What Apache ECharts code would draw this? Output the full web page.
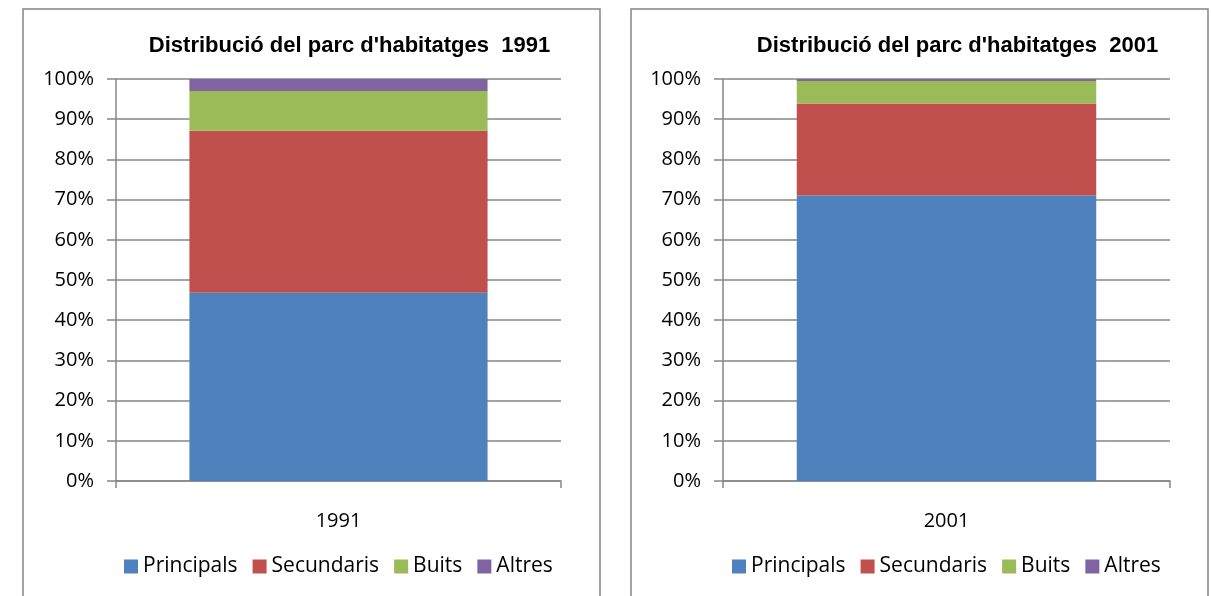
<!DOCTYPE html>
<html><head><meta charset="utf-8">
<script src="https://cdn.jsdelivr.net/npm/echarts@6/dist/echarts.min.js"></script>
<style>html,body{margin:0;padding:0;background:#fff}#c{width:1211px;height:596px}</style>
</head><body><div id="c"></div>
<script>
const titles = ["Distribució del parc d'habitatges  1991", "Distribució del parc d'habitatges  2001"];
const categories = [["1991"], ["2001"]];
const seriesNames = ["Principals", "Secundaris", "Buits", "Altres"];
const principals = [46.8, 71.0];
const secundaris = [40.3, 22.9];
const buits = [9.9, 5.6];
const altres = [3.0, 0.5];
const yTicks = [0, 10, 20, 30, 40, 50, 60, 70, 80, 90, 100];

const colors = ["#4F81BD", "#C0504D", "#9BBB59", "#8064A2"];
const values = [principals, secundaris, buits, altres];
const gridPos = [{left: 116, width: 445}, {left: 723, width: 447}];
const panelPos = [{x: 23, w: 577}, {x: 631, w: 577}];
const font = "'Open Sans', 'Noto Sans', sans-serif";
const gray = "#868686";
const legendFont = 21, legendIcon = 14, legendGap = 15, iconTextGap = 5;

function measure(txt, size, weight) {
  const c = document.createElement('canvas').getContext('2d');
  c.font = (weight || 'normal') + ' ' + size + 'px ' + font;
  return c.measureText(txt).width;
}
const legendWidth = seriesNames.reduce((a, n) => a + legendIcon + iconTextGap + measure(n, legendFont), 0)
  + legendGap * (seriesNames.length - 1);

const chart = echarts.init(document.getElementById('c'), null, {renderer: 'canvas'});
const grids = [], xAxes = [], yAxes = [], series = [], legends = [], titleOpts = [], graphics = [];
for (let p = 0; p < 2; p++) {
  grids.push({left: gridPos[p].left, width: gridPos[p].width, top: 79, height: 402});
  xAxes.push({
    type: 'category', gridIndex: p, data: categories[p],
    axisLine: {lineStyle: {color: gray, width: 1.5}},
    axisTick: {show: true, length: 7, lineStyle: {color: gray, width: 1.5}},
    axisLabel: {color: '#000', fontFamily: font, fontSize: 20, margin: 30}
  });
  yAxes.push({
    type: 'value', gridIndex: p, min: 0, max: 100, interval: 10,
    axisLine: {show: true, lineStyle: {color: gray, width: 1.5}},
    axisTick: {show: true, length: 9, lineStyle: {color: gray, width: 1.5}},
    splitLine: {lineStyle: {color: gray, width: 1.5}},
    axisLabel: {color: '#000', fontFamily: font, fontSize: 20, margin: 22,
      formatter: v => yTicks.includes(v) ? v + '%' : ''}
  });
  for (let s = 0; s < 4; s++) {
    series.push({
      type: 'bar', name: seriesNames[s], xAxisIndex: p, yAxisIndex: p,
      stack: 'st' + p, barWidth: '67%', data: [values[s][p]],
      itemStyle: {color: colors[s]}, emphasis: {disabled: true}
    });
  }
  const cx = gridPos[p].left + gridPos[p].width / 2;
  legends.push({
    data: seriesNames, left: Math.round(cx - legendWidth / 2), top: 556, padding: 0,
    itemWidth: legendIcon, itemHeight: legendIcon, itemGap: legendGap,
    icon: 'rect', textStyle: {fontFamily: font, fontSize: legendFont, color: '#000'},
    selectedMode: false
  });
  titleOpts.push({
    text: titles[p], left: cx + 6, top: 30, textAlign: 'center',
    textStyle: {fontFamily: "'Liberation Sans', sans-serif", fontWeight: 'bold', fontSize: 22, color: '#000'}
  });
  graphics.push({type: 'rect', shape: {x: panelPos[p].x, y: 9, width: panelPos[p].w, height: 620},
    style: {fill: 'none', stroke: gray, lineWidth: 1.5}, silent: true});
}
chart.setOption({
  animation: false,
  title: titleOpts, grid: grids, xAxis: xAxes, yAxis: yAxes, series: series,
  legend: legends, graphic: graphics
});
</script></body></html>
